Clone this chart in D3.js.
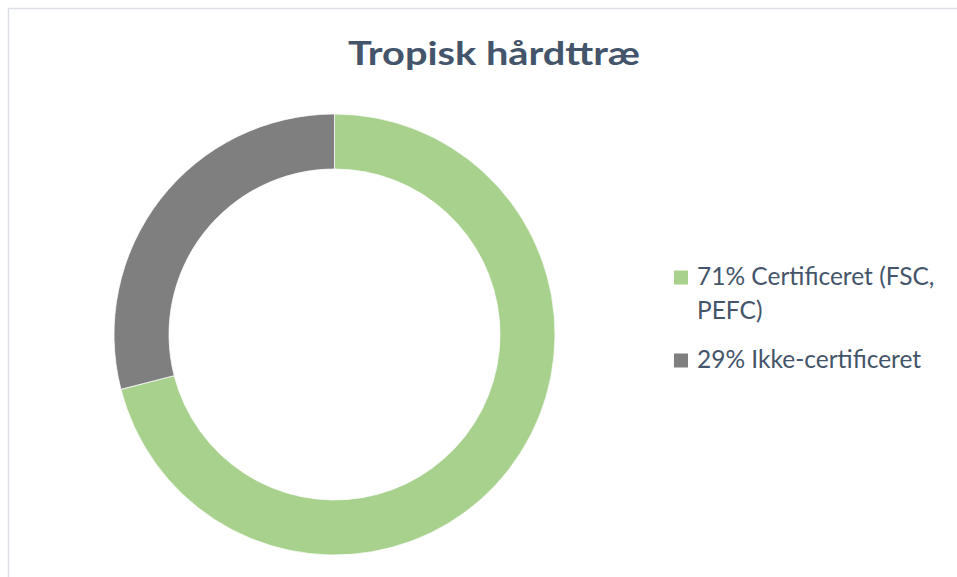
<!DOCTYPE html>
<html>
<head>
<meta charset="utf-8">
<script src="https://cdn.jsdelivr.net/npm/d3@7"></script>
<style>
  body { margin: 0; background: #fff; overflow: hidden; }
  svg { display: block; }
  text { font-family: Lato, "Open Sans", sans-serif; fill: #44546a; }
</style>
</head>
<body>
<div id="chart"></div>
<script>
// chart data
const title = "Tropisk hårdttræ";
const categories = ["Certificeret (FSC, PEFC)", "Ikke-certificeret"];
const values = [71, 29];
const colors = ["#a9d18e", "#7f7f7f"];
// legend labels, already wrapped the way the picture shows them
const legendLines = [["71% Certificeret (FSC,", "PEFC)"], ["29% Ikke-certificeret"]];

const width = 957, height = 577;

const svg = d3.select("#chart").append("svg")
    .attr("width", width)
    .attr("height", height);

// chart frame (runs off the right and bottom of the picture)
svg.append("rect")
    .attr("x", 8.5).attr("y", 8.5)
    .attr("width", 1000).attr("height", 1000)
    .attr("fill", "none")
    .attr("stroke", "#dde1e7")
    .attr("stroke-width", 1.5);

// title
svg.append("text")
    .attr("x", 494).attr("y", 65)
    .attr("text-anchor", "middle")
    .attr("font-size", 32)
    .attr("font-weight", "bold")
    .attr("textLength", 292)
    .attr("lengthAdjust", "spacingAndGlyphs")
    .text(title);

// donut
const cx = 334.5, cy = 334.5, outerR = 220.5, innerR = 165.5;

const pie = d3.pie().sort(null).value(d => d.value);
const arc = d3.arc().innerRadius(innerR).outerRadius(outerR);

const data = categories.map((c, i) => ({ category: c, value: values[i], color: colors[i] }));

svg.append("g")
    .attr("transform", `translate(${cx},${cy})`)
  .selectAll("path")
    .data(pie(data))
    .join("path")
    .attr("d", arc)
    .attr("fill", d => d.data.color)
    .attr("stroke", "#fff")
    .attr("stroke-width", 0.75);

// legend
const legendX = 674, legendTop = 284.5, lineH = 34, itemGap = 15;
let y = legendTop;
const legend = svg.append("g");
data.forEach((d, i) => {
    legend.append("rect")
        .attr("x", legendX).attr("y", y - 14)
        .attr("width", 14).attr("height", 14)
        .attr("fill", d.color);
    const t = legend.append("text")
        .attr("font-size", 24.5);
    legendLines[i].forEach((line, j) => {
        t.append("tspan")
            .attr("x", legendX + 23)
            .attr("y", y + j * lineH)
            .text(line);
    });
    y += legendLines[i].length * lineH + itemGap;
});
</script>
</body>
</html>
